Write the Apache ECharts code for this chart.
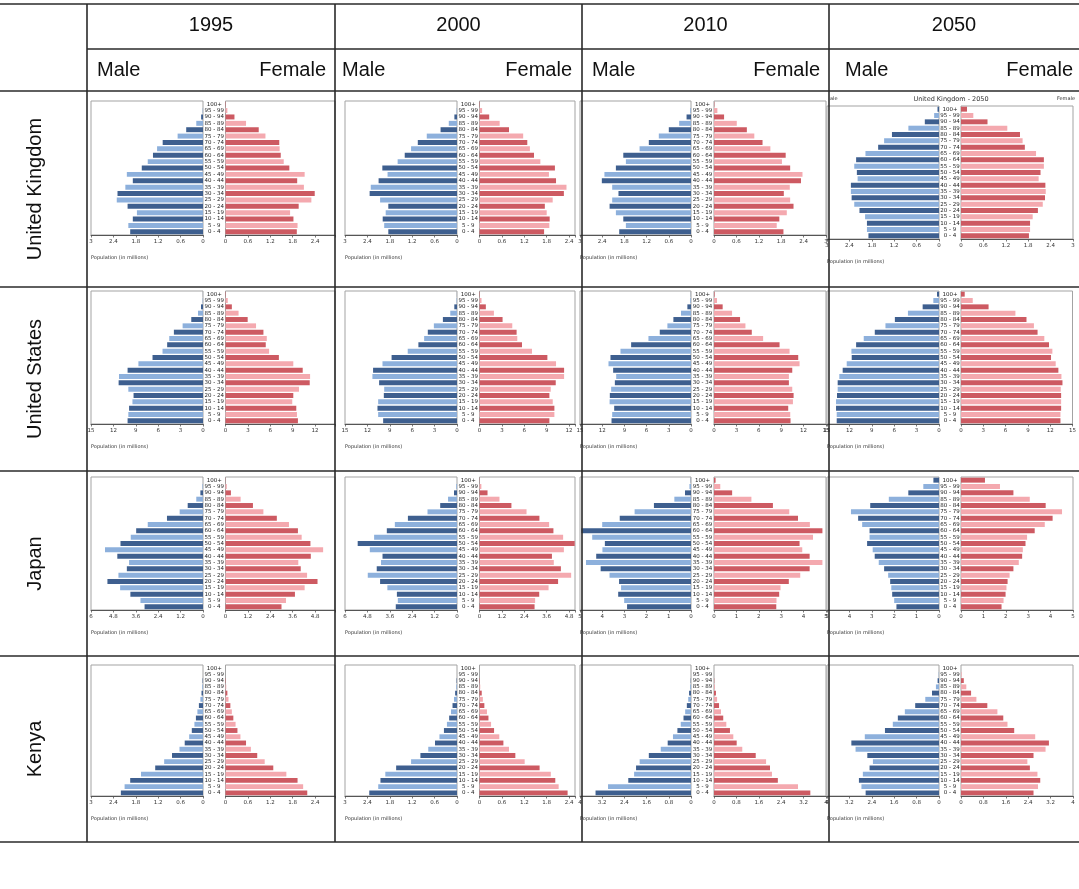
<!DOCTYPE html>
<html><head><meta charset="utf-8">
<script src="https://cdn.jsdelivr.net/npm/echarts@6/dist/echarts.min.js"></script>
<style>html,body{margin:0;padding:0;background:#fff}#c{width:1079px;height:889px}</style>
</head><body><div id="c"></div><script>
// ---------- categories / labels ----------
const ages = ['0 - 4','5 - 9','10 - 14','15 - 19','20 - 24','25 - 29','30 - 34','35 - 39','40 - 44','45 - 49','50 - 54','55 - 59','60 - 64','65 - 69','70 - 74','75 - 79','80 - 84','85 - 89','90 - 94','95 - 99','100+'];
const years = ['1995','2000','2010','2050'];
const countries = ['United Kingdom','United States','Japan','Kenya'];
// axis [max, tick step] per year column (population in millions)
const ukScale = [[3,0.6],[3,0.6],[3,0.6],[3,0.6]];
const usScale = [[15,3],[15,3],[15,3],[15,3]];
const jpScale = [[6,1.2],[6,1.2],[5,1],[5,1]];
const keScale = [[3,0.6],[3,0.6],[4,0.8],[4,0.8]];

// ---------- data (millions), age groups 0-4 ... 100+ ----------
const ukM1995 = [1.95,2.0,1.88,1.77,2.02,2.31,2.29,2.08,1.88,2.04,1.64,1.48,1.34,1.23,1.08,0.68,0.45,0.18,0.05,0.01,0];
const ukF1995 = [1.91,1.93,1.82,1.73,1.96,2.3,2.39,2.1,1.92,2.12,1.71,1.56,1.48,1.45,1.44,1.07,0.89,0.55,0.24,0.05,0.01];
const ukM2000 = [1.84,1.95,1.99,1.91,1.84,2.06,2.34,2.31,2.1,1.86,2.0,1.59,1.4,1.23,1.05,0.81,0.44,0.22,0.07,0.01,0];
const ukF2000 = [1.73,1.87,1.88,1.8,1.75,1.96,2.26,2.33,2.05,1.86,2.02,1.63,1.46,1.35,1.28,1.17,0.79,0.54,0.26,0.07,0.01];
const ukM2010 = [1.94,1.76,1.83,2.03,2.2,2.13,1.96,2.13,2.41,2.34,2.03,1.76,1.83,1.39,1.14,0.87,0.6,0.32,0.12,0.02,0];
const ukF2010 = [1.86,1.68,1.75,1.95,2.13,2.04,1.87,2.03,2.33,2.37,2.04,1.82,1.92,1.51,1.3,1.08,0.88,0.61,0.27,0.09,0.01];
const ukM2050 = [1.89,1.93,1.93,1.98,2.13,2.27,2.34,2.36,2.36,2.18,2.2,2.27,2.22,1.97,1.63,1.47,1.26,0.82,0.38,0.13,0.04];
const ukF2050 = [1.82,1.85,1.85,1.92,2.06,2.19,2.25,2.27,2.26,2.08,2.13,2.22,2.22,2.01,1.71,1.65,1.58,1.24,0.71,0.33,0.16];

const usM1995 = [10.1,10.0,9.9,9.45,9.3,10.0,11.3,11.25,10.1,8.65,6.76,5.42,4.8,4.52,3.9,2.73,1.57,0.67,0.27,0.05,0.01];
const usF1995 = [9.7,9.57,9.48,8.94,9.08,9.84,11.28,11.33,10.34,9.08,7.15,5.84,5.39,5.53,5.08,4.09,2.97,1.75,0.85,0.3,0.05];
const usM2000 = [9.89,10.56,10.65,10.56,9.8,9.75,10.43,11.33,11.24,9.98,8.76,6.6,5.17,4.4,3.91,3.1,1.89,0.9,0.36,0.06,0.01];
const usF2000 = [9.36,10.03,10.03,9.81,9.36,9.54,10.21,11.33,11.33,10.25,9.09,7.03,5.69,5.06,4.97,4.39,3.09,1.93,0.85,0.27,0.05];
const usM2010 = [10.74,10.65,10.38,11.0,10.97,10.79,10.29,10.11,10.52,11.15,10.88,9.53,8.09,5.75,4.22,3.19,2.38,1.35,0.49,0.1,0.02];
const usF2010 = [10.25,10.21,9.94,10.57,10.66,10.48,10.03,10.03,10.48,11.46,11.28,10.12,8.78,6.58,5.06,4.21,3.49,2.42,1.16,0.4,0.08];
const usM2050 = [13.7,13.7,13.79,13.79,13.66,13.57,13.57,13.35,12.9,12.36,11.69,11.73,11.1,10.08,8.6,7.17,5.91,4.16,2.19,0.76,0.27];
const usF2050 = [13.38,13.38,13.47,13.47,13.47,13.42,13.65,13.51,13.1,12.74,12.11,12.29,11.84,11.21,10.3,9.81,8.81,7.32,3.71,1.58,0.5];

const jpM1995 = [3.13,3.35,3.89,4.44,5.12,4.53,4.08,3.96,4.59,5.25,4.42,3.87,3.58,2.96,1.93,1.25,0.82,0.36,0.14,0.03,0];
const jpF1995 = [3.0,3.24,3.72,4.24,4.93,4.37,4.03,3.9,4.57,5.23,4.55,4.08,3.88,3.4,2.75,2.03,1.47,0.81,0.29,0.07,0.01];
const jpM2000 = [3.28,3.17,3.22,3.73,4.12,4.78,4.3,4.07,3.99,4.67,5.32,4.44,3.76,3.33,2.63,1.58,0.9,0.48,0.16,0.04,0];
const jpF2000 = [2.95,2.98,3.2,3.7,4.21,4.91,4.36,3.98,3.88,4.52,5.1,4.48,3.96,3.73,3.21,2.52,1.71,1.07,0.43,0.1,0.01];
const jpM2010 = [2.88,3.01,3.28,3.15,3.24,3.67,4.07,4.73,4.27,3.99,3.88,4.45,4.94,4.0,3.21,2.54,1.67,0.75,0.27,0.07,0.01];
const jpF2010 = [2.78,2.79,2.91,2.97,3.34,3.85,4.27,4.84,4.27,3.94,3.82,4.42,4.84,4.28,3.75,3.36,2.63,1.67,0.81,0.28,0.07];
const jpM2050 = [1.9,2.0,2.09,2.13,2.18,2.27,2.45,2.69,2.87,2.96,3.21,3.1,3.1,3.43,3.61,3.93,3.07,2.24,1.37,0.7,0.25];
const jpF2050 = [1.81,1.9,1.99,2.03,2.08,2.17,2.34,2.58,2.73,2.76,2.88,2.95,3.29,3.74,4.09,4.51,3.78,3.07,2.34,1.74,1.07];

const keM1995 = [2.2,2.1,1.95,1.66,1.28,1.04,0.83,0.63,0.49,0.37,0.3,0.23,0.19,0.15,0.11,0.07,0.04,0.02,0.01,0,0];
const keF1995 = [2.19,2.08,1.93,1.63,1.28,1.05,0.85,0.68,0.55,0.4,0.32,0.27,0.21,0.17,0.13,0.08,0.05,0.02,0.01,0,0];
const keM2000 = [2.35,2.11,2.05,1.92,1.63,1.23,0.98,0.77,0.59,0.47,0.35,0.27,0.21,0.16,0.12,0.08,0.05,0.02,0.01,0,0];
const keF2000 = [2.36,2.12,2.03,1.91,1.61,1.21,0.96,0.79,0.64,0.53,0.39,0.31,0.24,0.2,0.13,0.09,0.06,0.02,0.01,0,0];
const keM2010 = [3.44,2.99,2.26,2.05,1.98,1.85,1.52,1.09,0.84,0.65,0.49,0.37,0.27,0.21,0.15,0.1,0.07,0.03,0.01,0,0];
const keF2010 = [3.44,3.0,2.28,2.07,2.0,1.86,1.49,1.01,0.81,0.69,0.57,0.44,0.33,0.25,0.18,0.11,0.07,0.03,0.01,0,0];
const keM2050 = [2.62,2.77,2.86,2.72,2.48,2.36,2.56,2.98,3.13,2.65,1.93,1.65,1.47,1.22,0.85,0.49,0.25,0.11,0.05,0.01,0];
const keF2050 = [2.59,2.75,2.83,2.73,2.46,2.37,2.59,3.02,3.14,2.65,1.9,1.66,1.51,1.3,0.94,0.55,0.36,0.19,0.1,0.02,0];

// ---------- assembly ----------
const maleData = [[ukM1995,ukM2000,ukM2010,ukM2050],[usM1995,usM2000,usM2010,usM2050],[jpM1995,jpM2000,jpM2010,jpM2050],[keM1995,keM2000,keM2010,keM2050]];
const femaleData = [[ukF1995,ukF2000,ukF2010,ukF2050],[usF1995,usF2000,usF2010,usF2050],[jpF1995,jpF2000,jpF2010,jpF2050],[keF1995,keF2000,keF2010,keF2050]];
const scales = [ukScale,usScale,jpScale,keScale];

// layout (pixels)
const colX = [87,335,582,829];
const rowY = [91,287,471,656,842];
const colLayout = [
  {lEnd:91,  lZero:203, rZero:225.5, rEnd:335},
  {lEnd:345, lZero:457, rZero:479.5, rEnd:575},
  {lEnd:580, lZero:691, rZero:714,   rEnd:826},
  {lEnd:827, lZero:939, rZero:961,   rEnd:1073}
];
const rowLayout = [{top:101,h:134},{top:291,h:133},{top:477,h:133},{top:665,h:131}];
const NOMINAL = 112;
const C = {mDark:'#3e5f8f', mLight:'#8db0dc', fDark:'#cd5a62', fLight:'#f4a9af'};
const SMALL = 'DejaVu Sans';
const BIG = '"Liberation Sans", Arial, Helvetica, sans-serif';

const grids=[], xAxes=[], yAxes=[], series=[], graphics=[];
function fmt(step){
  return function(v){
    const k=v/step;
    if(Math.abs(k-Math.round(k))>1e-6) return '';
    return String(+(+v).toFixed(2));
  };
}
for(let r=0;r<4;r++){
  for(let c=0;c<4;c++){
    const L=colLayout[c];
    let top=rowLayout[r].top, h=rowLayout[r].h;
    if(r===0&&c===3){top=106;h=133;}
    const [M,step]=scales[r][c];
    const sides=[
      {left:L.lEnd, width:L.lZero-L.lEnd, max:M, inv:true, data:maleData[r][c], dark:C.mDark, light:C.mLight},
      {left:L.rZero, width:L.rEnd-L.rZero, max:M*(L.rEnd-L.rZero)/NOMINAL, inv:false, data:femaleData[r][c], dark:C.fDark, light:C.fLight}
    ];
    sides.forEach((s,si)=>{
      const idx=grids.length;
      grids.push({left:s.left, top:top, width:s.width, height:h, show:true, borderColor:'#a3a3a3', borderWidth:1, backgroundColor:'rgba(0,0,0,0)'});
      xAxes.push({gridIndex:idx, type:'value', min:0, max:s.max, interval:step, inverse:s.inv,
        splitLine:{show:false},
        axisLine:{show:true, lineStyle:{color:'#555', width:1}},
        axisTick:{show:true, length:2.5, lineStyle:{color:'#555', width:0.8}},
        axisLabel:{fontSize:5.5, color:'#333', margin:4, fontFamily:SMALL, formatter:fmt(step)}});
      yAxes.push({gridIndex:idx, type:'category', data:ages,
        axisLine:{show:false}, axisTick:{show:false}, splitLine:{show:false},
        axisLabel: si===0 ? {show:false} : {show:true, interval:0, fontSize:5.5, color:'#222', fontFamily:SMALL,
          margin:(L.rZero-L.lZero)/2, align:'center'}});
      series.push({type:'bar', xAxisIndex:idx, yAxisIndex:idx, data:s.data, barCategoryGap:'22%', silent:true,
        itemStyle:{color:(p)=> p.dataIndex%2===0 ? s.dark : s.light}});
    });
    graphics.push({type:'text', x:L.lEnd, y:top+h+23, z:50, silent:true,
      style:{text:'Population (in millions)', fontSize:5, fontFamily:SMALL, fill:'#333', align:'left', textAlign:'left', verticalAlign:'middle', textVerticalAlign:'middle'}});
  }
}
// UK 2050 panel header (from the source image)
graphics.push({type:'text', x:951, y:99, z:50, silent:true, style:{text:'United Kingdom - 2050', fontSize:6.5, fontFamily:SMALL, fill:'#333', align:'center', textAlign:'center', verticalAlign:'middle', textVerticalAlign:'middle'}});
graphics.push({type:'text', x:830, y:99, z:50, silent:true, style:{text:'ale', fontSize:5, fontFamily:SMALL, fill:'#333', align:'left', textAlign:'left', verticalAlign:'middle', textVerticalAlign:'middle'}});
graphics.push({type:'text', x:1075, y:99, z:50, silent:true, style:{text:'Female', fontSize:5, fontFamily:SMALL, fill:'#333', align:'right', textAlign:'right', verticalAlign:'middle', textVerticalAlign:'middle'}});

// table lines
const LS={stroke:'#2a2a2a', lineWidth:1.6};
function hl(y,x1,x2){graphics.push({type:'line', z:100, silent:true, shape:{x1:x1,y1:y,x2:x2,y2:y}, style:LS});}
function vl(x,y1,y2){graphics.push({type:'line', z:100, silent:true, shape:{x1:x,y1:y1,x2:x,y2:y2}, style:LS});}
hl(4,0,1079); hl(49,87,1079);
rowY.forEach(y=>hl(y,0,1079));
colX.forEach(x=>vl(x,4,842));
// headers
function txt(t,x,y,align,rot){
  const o={type:'text', x:x, y:y, z:100, silent:true,
    style:{text:t, fontSize:20, fontFamily:BIG, fill:'#111', align:align, textAlign:align, verticalAlign:'middle', textVerticalAlign:'middle'}};
  if(rot) o.rotation=rot;
  graphics.push(o);
}
const maleX=[97,342,592,845], femaleX=[326,572,820,1073];
years.forEach((y,i)=>{
  txt(y,(colX[i]+(i<3?colX[i+1]:1079))/2,25,'center');
  txt('Male',maleX[i],70,'left');
  txt('Female',femaleX[i],70,'right');
});
countries.forEach((n,i)=>txt(n,35,(rowY[i]+rowY[i+1])/2,'center',Math.PI/2));

const chart=echarts.init(document.getElementById('c'),null,{renderer:'canvas'});
chart.setOption({animation:false, backgroundColor:'#fff', grid:grids, xAxis:xAxes, yAxis:yAxes, series:series, graphic:graphics});
</script></body></html>
